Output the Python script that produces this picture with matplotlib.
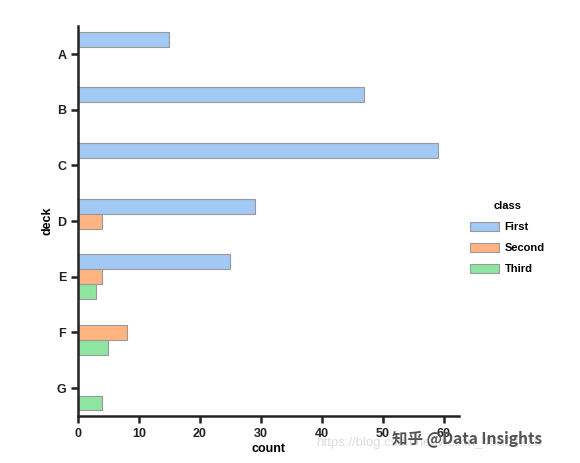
import numpy as np
import matplotlib
matplotlib.use('Agg')
import matplotlib.pyplot as plt
from matplotlib.patches import Patch

# dados: contagem por deck e classe
decks = ['A', 'B', 'C', 'D', 'E', 'F', 'G']
classes = ['First', 'Second', 'Third']
first = [15, 47, 59, 29, 25, 0, 0]
second = [0, 0, 0, 4, 4, 8, 0]
third = [0, 0, 0, 0, 3, 5, 4]
cores = ['#a1c9f4', '#ffb482', '#8de5a1']

plt.rcParams['font.family'] = ['Liberation Sans', 'DejaVu Sans']
plt.rcParams['font.weight'] = 'bold'

fig = plt.figure(figsize=(5.8, 4.63), dpi=100)
ax = fig.add_axes([0.1345, 0.1015, 0.657, 0.842])

largura = 0.8 / 3
pos = np.arange(len(decks))
for k, (serie, cor) in enumerate(zip([first, second, third], cores)):
    deslocamento = -0.4 + largura * (k + 0.5)
    ax.barh(pos + deslocamento, serie, height=largura, color=cor,
            edgecolor='0.6', linewidth=0.8)

ax.set_yticks(pos)
ax.set_yticklabels(decks)
ax.set_ylim(len(decks) - 0.5, -0.5)
ax.set_xlim(0, 59 * 1.06)
ax.set_xticks([0, 10, 20, 30, 40, 50, 60])

for lado in ['top', 'right']:
    ax.spines[lado].set_visible(False)
for lado in ['left', 'bottom']:
    ax.spines[lado].set_linewidth(1.8)
    ax.spines[lado].set_color('#222222')
ax.tick_params(width=1.8, length=5, color='#222222', labelsize=9, labelcolor='#222222')

ax.set_xlabel('count', fontsize=9, fontweight='bold', labelpad=2)
ax.set_ylabel('deck', fontsize=9, fontweight='bold', labelpad=2)

handles = [Patch(facecolor=c, edgecolor='0.6', linewidth=0.8) for c in cores]
fig.legend(handles, classes, title='class', loc='center left',
           bbox_to_anchor=(0.793, 0.487), frameon=False, fontsize=8,
           title_fontsize=8, handlelength=2.6, handleheight=0.9,
           labelspacing=0.95, handletextpad=0.5)

# marcas d'água
fig.text(0.545, 0.037, 'https://blog.csdn.net/weixin_45804226', fontsize=9.5,
         color='#dddddd', fontweight='normal', zorder=0)
fig.text(0.675, 0.04, '知乎 @Data Insights', fontsize=11.2, color='#555555',
         family=['Noto Sans CJK SC', 'DejaVu Sans'], fontweight='bold')

fig.savefig('out.png', dpi=100, facecolor='white')
